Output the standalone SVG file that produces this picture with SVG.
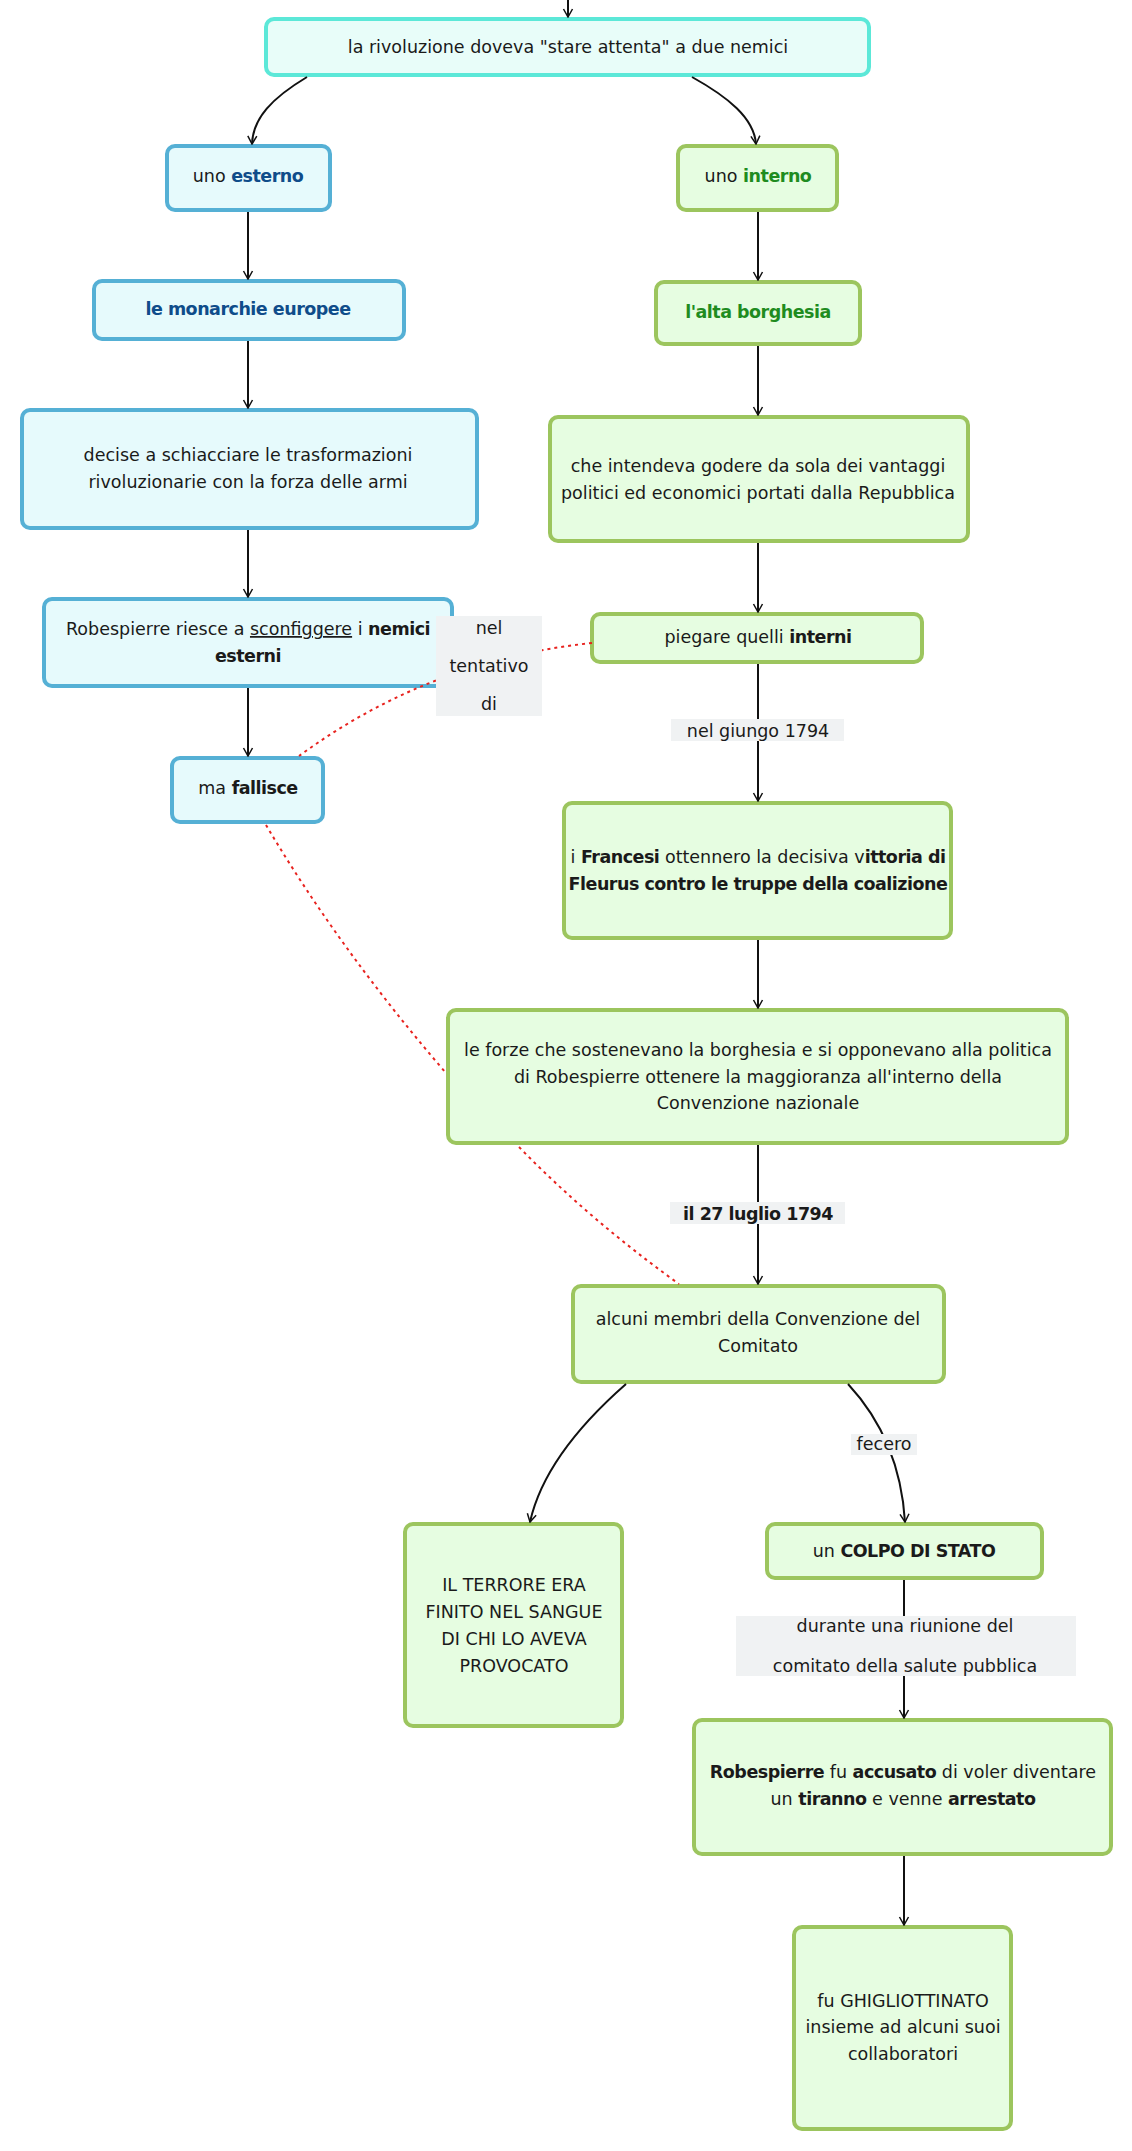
<svg xmlns="http://www.w3.org/2000/svg" width="1132" height="2151" viewBox="0 0 1132 2151">
<defs>
<style>
.t{font-family:"DejaVu Sans","Liberation Sans",sans-serif;font-size:17.5px;fill:#1a1a1a;text-anchor:middle}
.b{font-weight:bold;letter-spacing:-0.5px}
.blue{fill:#0f4c8a}
.green{fill:#1f8c1f}
.nt{fill:#e8fdf9;stroke:#5ce8d8;stroke-width:4}
.nb{fill:#e6fafc;stroke:#55b0d5;stroke-width:4}
.ng{fill:#e6fde1;stroke:#9cc55e;stroke-width:4}
.lbl{fill:#f0f2f3}
.c{fill:none;stroke:#111;stroke-width:2}
.r{fill:none;stroke:#e8231f;stroke-width:2;stroke-dasharray:3 4}
</style>
<marker id="ah" markerUnits="userSpaceOnUse" markerWidth="12" markerHeight="12" viewBox="0 0 12 12" refX="11" refY="6" orient="auto">
<path d="M3,1.5 L11,6 L3,10.5" fill="none" stroke="#111" stroke-width="1.5"/>
</marker>
</defs>
<rect width="1132" height="2151" fill="#ffffff"/>

<g id="nodes">
<g id="n-top"><rect class="nt" x="266" y="19" width="603" height="56" rx="8"/>
<text class="t" x="568" y="53">la rivoluzione doveva "stare attenta" a due nemici</text></g>

<g id="n-esterno"><rect class="nb" x="167" y="146" width="163" height="64" rx="8"/>
<text class="t" x="248" y="182">uno <tspan class="b blue">esterno</tspan></text></g>

<g id="n-interno"><rect class="ng" x="678" y="146" width="159" height="64" rx="8"/>
<text class="t" x="758" y="182">uno <tspan class="b green">interno</tspan></text></g>

<g id="n-monarchie"><rect class="nb" x="94" y="281" width="310" height="58" rx="8"/>
<text class="t b blue" x="248" y="315">le monarchie europee</text></g>

<g id="n-borghesia"><rect class="ng" x="656" y="282" width="204" height="62" rx="8"/>
<text class="t b green" x="758" y="318">l'alta borghesia</text></g>

<g id="n-decise"><rect class="nb" x="22" y="410" width="455" height="118" rx="8"/>
<text class="t" x="248" y="461">decise a schiacciare le trasformazioni</text>
<text class="t" x="248" y="488">rivoluzionarie con la forza delle armi</text></g>

<g id="n-intendeva"><rect class="ng" x="550" y="417" width="418" height="124" rx="8"/>
<text class="t" x="758" y="472">che intendeva godere da sola dei vantaggi</text>
<text class="t" x="758" y="499">politici ed economici portati dalla Repubblica</text></g>

<g id="n-robespierre"><rect class="nb" x="44" y="599" width="408" height="87" rx="8"/>
<text class="t" x="248" y="635">Robespierre riesce a <tspan text-decoration="underline">sconfiggere</tspan> i <tspan class="b">nemici</tspan></text>
<text class="t b" x="248" y="662">esterni</text></g>

<g id="n-piegare"><rect class="ng" x="592" y="614" width="330" height="48" rx="8"/>
<text class="t" x="758" y="643">piegare quelli <tspan class="b">interni</tspan></text></g>

<g id="n-fallisce"><rect class="nb" x="172" y="758" width="151" height="64" rx="8"/>
<text class="t" x="248" y="794">ma <tspan class="b">fallisce</tspan></text></g>

<g id="n-francesi"><rect class="ng" x="564" y="803" width="387" height="135" rx="8"/>
<text class="t" x="758" y="863">i <tspan class="b">Francesi</tspan> ottennero la decisiva v<tspan class="b">ittoria di</tspan></text>
<text class="t b" x="758" y="890">Fleurus contro le truppe della coalizione</text></g>

<g id="n-forze"><rect class="ng" x="448" y="1010" width="619" height="133" rx="8"/>
<text class="t" x="758" y="1056">le forze che sostenevano la borghesia e si opponevano alla politica</text>
<text class="t" x="758" y="1083">di Robespierre ottenere la maggioranza all'interno della</text>
<text class="t" x="758" y="1109">Convenzione nazionale</text></g>

<g id="n-alcuni"><rect class="ng" x="573" y="1286" width="371" height="96" rx="8"/>
<text class="t" x="758" y="1325">alcuni membri della Convenzione del</text>
<text class="t" x="758" y="1352">Comitato</text></g>

<g id="n-terrore"><rect class="ng" x="405" y="1524" width="217" height="202" rx="8"/>
<text class="t" x="514" y="1591">IL TERRORE ERA</text>
<text class="t" x="514" y="1618">FINITO NEL SANGUE</text>
<text class="t" x="514" y="1645">DI CHI LO AVEVA</text>
<text class="t" x="514" y="1672">PROVOCATO</text></g>

<g id="n-colpo"><rect class="ng" x="767" y="1524" width="275" height="54" rx="8"/>
<text class="t" x="904" y="1557">un <tspan class="b">COLPO DI STATO</tspan></text></g>

<g id="n-accusato"><rect class="ng" x="694" y="1720" width="417" height="134" rx="8"/>
<text class="t" x="903" y="1778"><tspan class="b">Robespierre</tspan> fu <tspan class="b">accusato</tspan> di voler diventare</text>
<text class="t" x="903" y="1805">un <tspan class="b">tiranno</tspan> e venne <tspan class="b">arrestato</tspan></text></g>

<g id="n-ghigliottinato"><rect class="ng" x="794" y="1927" width="217" height="202" rx="8"/>
<text class="t" x="903" y="2007">fu GHIGLIOTTINATO</text>
<text class="t" x="903" y="2033">insieme ad alcuni suoi</text>
<text class="t" x="903" y="2060">collaboratori</text></g>
</g>

<g id="connectors">
<path class="c" d="M568,0 L568,17" marker-end="url(#ah)"/>
<path class="c" d="M307,77 C272,98 253,118 252,144" marker-end="url(#ah)"/>
<path class="c" d="M692,77 C728,97 754,118 756,144" marker-end="url(#ah)"/>
<path class="c" d="M248,212 L248,279" marker-end="url(#ah)"/>
<path class="c" d="M248,341 L248,408" marker-end="url(#ah)"/>
<path class="c" d="M248,530 L248,597" marker-end="url(#ah)"/>
<path class="c" d="M248,688 L248,756" marker-end="url(#ah)"/>
<path class="c" d="M758,212 L758,280" marker-end="url(#ah)"/>
<path class="c" d="M758,346 L758,415" marker-end="url(#ah)"/>
<path class="c" d="M758,543 L758,612" marker-end="url(#ah)"/>
<path class="c" d="M758,664 L758,801" marker-end="url(#ah)"/>
<path class="c" d="M758,940 L758,1008" marker-end="url(#ah)"/>
<path class="c" d="M758,1145 L758,1284" marker-end="url(#ah)"/>
<path class="c" d="M626,1384 Q545,1455 530,1522" marker-end="url(#ah)"/>
<path class="c" d="M848,1384 Q900,1440 905,1522" marker-end="url(#ah)"/>
<path class="c" d="M904,1580 L904,1718" marker-end="url(#ah)"/>
<path class="c" d="M904,1856 L904,1925" marker-end="url(#ah)"/>
<path class="r" d="M592,643 Q430,660 299,756"/>
<path class="r" d="M266,825 Q340,950 446,1073"/>
<path class="r" d="M519,1147 Q590,1220 679,1284"/>

<g id="l-tentativo"><rect class="lbl" x="436" y="616" width="106" height="100"/>
<text class="t" x="489" y="634">nel</text>
<text class="t" x="489" y="672">tentativo</text>
<text class="t" x="489" y="710">di</text></g>
<g id="l-giugno"><rect class="lbl" x="671" y="719" width="173" height="22"/>
<text class="t" x="758" y="737">nel giungo 1794</text></g>
<g id="l-luglio"><rect class="lbl" x="670" y="1202" width="175" height="22"/>
<text class="t b" x="758" y="1220">il 27 luglio 1794</text></g>
<g id="l-fecero"><rect class="lbl" x="851" y="1434" width="66" height="21"/>
<text class="t" x="884" y="1450">fecero</text></g>
<g id="l-durante"><rect class="lbl" x="736" y="1616" width="340" height="60"/>
<text class="t" x="905" y="1632">durante una riunione del</text>
<text class="t" x="905" y="1672">comitato della salute pubblica</text></g>
</g>
</svg>
